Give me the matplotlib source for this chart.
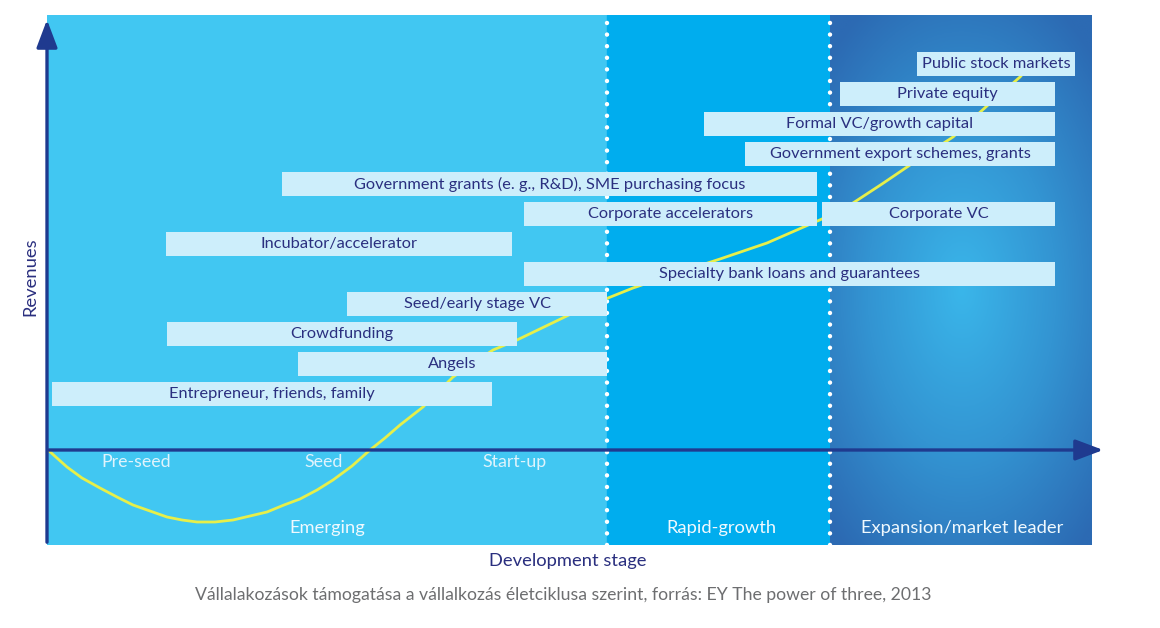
import numpy as np
import matplotlib
matplotlib.use("Agg")
import matplotlib.pyplot as plt
from matplotlib.colors import LinearSegmentedColormap

plt.rcParams['font.family'] = ['Lato', 'DejaVu Sans']

# funding sources: label, stage start, stage end, row (revenue level)
bar_labels = ["Entrepreneur, friends, family", "Angels", "Crowdfunding",
              "Seed/early stage VC", "Specialty bank loans and guarantees",
              "Incubator/accelerator", "Corporate accelerators", "Corporate VC",
              "Government grants (e. g., R&D), SME purchasing focus",
              "Government export schemes, grants", "Formal VC/growth capital",
              "Private equity", "Public stock markets"]
bar_start = [5, 251, 120, 300, 477, 119, 477, 775, 235, 698, 657, 793, 870]
bar_end = [445, 560, 470, 560, 1008, 465, 770, 1008, 770, 1008, 1008, 1008, 1028]
bar_row = [1, 2, 3, 4, 5, 6, 7, 7, 8, 9, 10, 11, 12]

# revenue curve
curve_x = [1, 20, 35, 53, 70, 86, 103, 120, 135, 150, 168, 186, 203, 220, 237,
           253, 270, 286, 305, 323, 338, 353, 376, 406, 446, 470, 526, 561, 586,
           630, 673, 720, 775, 806, 835, 863, 906, 941, 973, 990]
curve_y = [0, -17, -28, -38, -47, -55, -61, -67, -70, -72, -72, -70, -66, -62, -55,
           -49, -40, -30, -16, 0, 12, 25, 43, 73, 100, 110, 137, 152, 162,
           177, 191, 207, 231, 247, 266, 285, 313, 345, 373, 392]

sub_stages = ["Pre-seed", "Seed", "Start-up"]
sub_stage_x = [89, 277, 467]
phases = ["Emerging", "Rapid-growth", "Expansion/market leader"]
phase_x = [280, 674, 915]
phase_bounds = [0, 560, 783, 1045]

navy = "#1f3a8f"
text_navy = "#2a2f7f"
bar_col = "#cdeefb"

fig = plt.figure(figsize=(11.6, 6.28), dpi=100)
ax = fig.add_axes([47/1160, 83/628, 1045/1160, 530/628])
ax.set_xlim(0, 1045)
ax.set_ylim(-95, 435)
ax.axis('off')

# phase backgrounds
ax.axvspan(phase_bounds[0], phase_bounds[1], color="#41c7f2", zorder=0)
ax.axvspan(phase_bounds[1], phase_bounds[2], color="#00adee", zorder=0)
gx, gy = np.meshgrid(np.linspace(phase_bounds[2], phase_bounds[3], 200),
                     np.linspace(435, -95, 300))
r = np.sqrt(((gx - 915) / 190.0) ** 2 + ((gy - 160) / 330.0) ** 2)
cmap = LinearSegmentedColormap.from_list("exp", ["#3ab6ea", "#3394d2", "#2c6ab3"])
ax.imshow(np.clip(r, 0, 1), extent=(phase_bounds[2], phase_bounds[3], -95, 435),
          aspect='auto', cmap=cmap, vmin=0, vmax=1, zorder=0.5, interpolation='bilinear')

for xb in phase_bounds[1:3]:
    ax.plot([xb, xb], [-95, 435], color="white", lw=3.2,
            linestyle=(0, (0.01, 2.6)), dash_capstyle='round', zorder=1)

# revenue curve
ax.plot(curve_x, curve_y, color="#e6ef4a", lw=2, zorder=2,
        solid_capstyle='round', solid_joinstyle='round')

# funding bars
row_y = [26 + 30 * r_ for r_ in bar_row]
for lab, s, e, y in zip(bar_labels, bar_start, bar_end, row_y):
    ax.barh(y, e - s, left=s, height=24, color=bar_col, zorder=3)
    ax.text((s + e) / 2, y, lab, ha='center', va='center', fontsize=11.8,
            color=text_navy, zorder=4)

# axes arrows
arrow = dict(arrowstyle='-|>,head_length=0.85,head_width=0.32',
             color=navy, lw=2.4, mutation_scale=20)
ax.annotate('', xy=(1059, 0), xytext=(-1, 0), annotation_clip=False,
            arrowprops=arrow, zorder=5)
ax.annotate('', xy=(0, 433), xytext=(0, -95), annotation_clip=False,
            arrowprops=arrow, zorder=5)

for lab, x in zip(sub_stages, sub_stage_x):
    ax.text(x, -12, lab, ha='center', va='center', fontsize=12.8, color="#dff3fc", zorder=4)
for lab, x in zip(phases, phase_x):
    ax.text(x, -78, lab, ha='center', va='center', fontsize=13.2, color="#f0f9fe", zorder=4)

fig.text(568/1160, 1 - 561/628, "Development stage", ha='center', va='center',
         fontsize=13.2, color=text_navy)
fig.text(30/1160, 1 - 277/628, "Revenues", ha='center', va='center', rotation=90,
         fontsize=13.2, color=text_navy)
fig.text(563/1160, 1 - 595/628,
         "Vállalakozások támogatása a vállalkozás életciklusa szerint, forrás: EY The power of three, 2013",
         ha='center', va='center', fontsize=12.7, color="#6d6e70")

fig.savefig("out.png", dpi=100)
